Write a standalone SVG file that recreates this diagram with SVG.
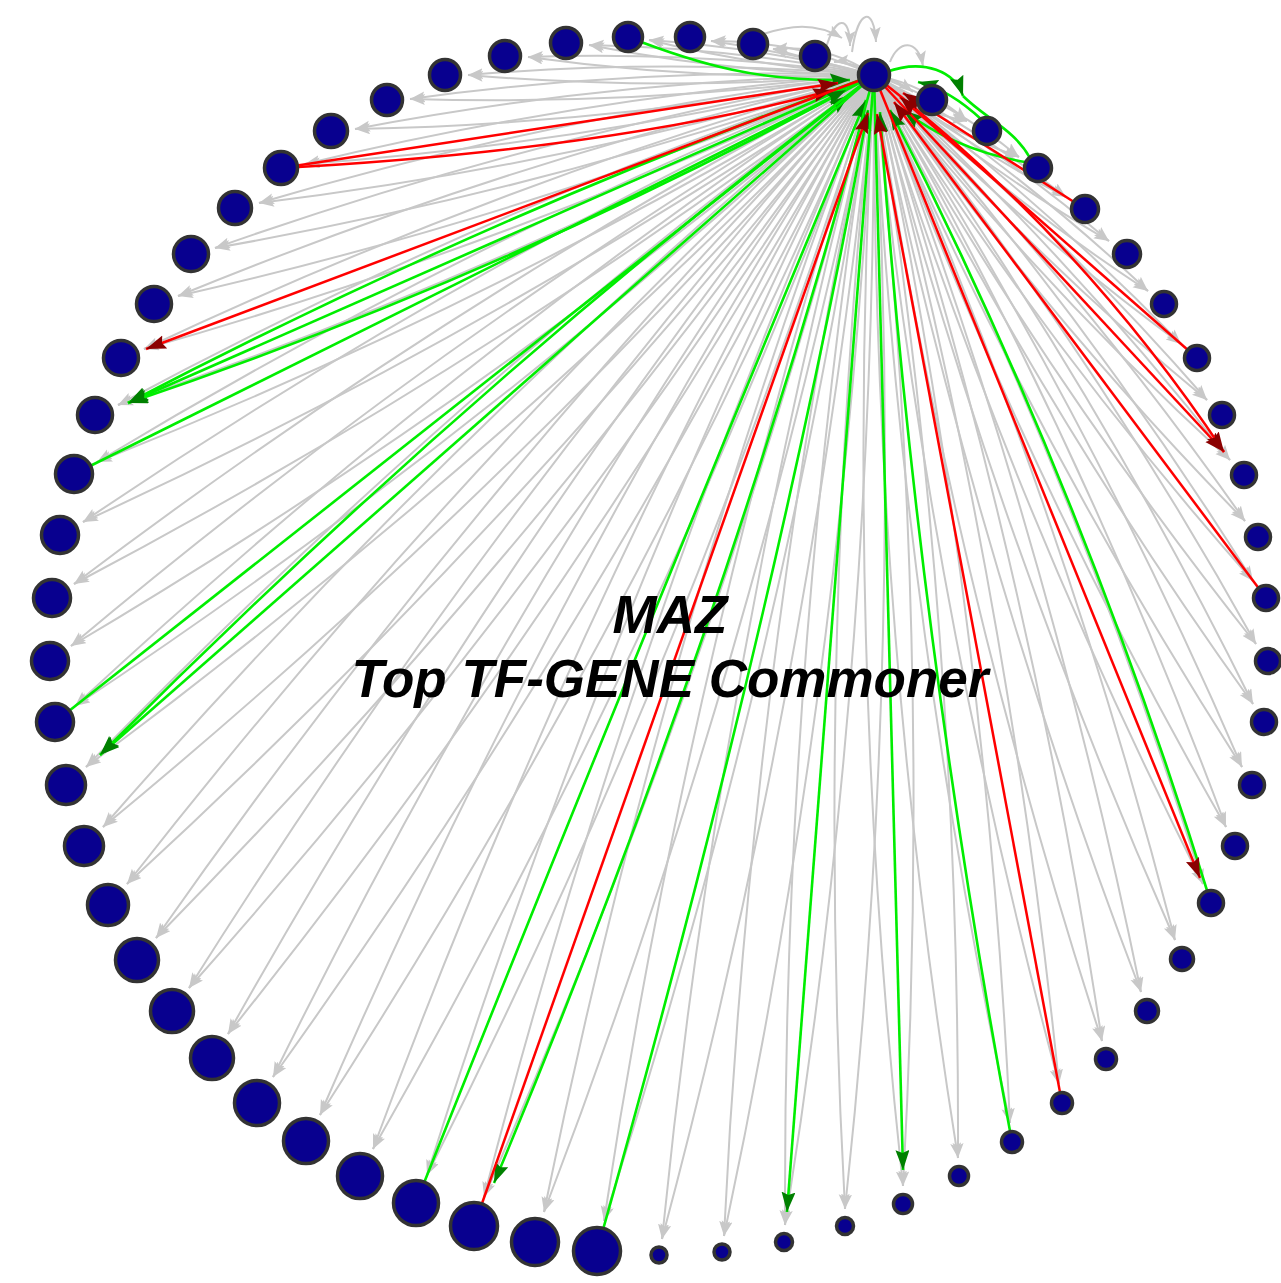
<svg xmlns="http://www.w3.org/2000/svg" width="1281" height="1283" viewBox="0 0 1281 1283">
<style>
.ge path{fill:none;stroke:#c8c8c8;stroke-width:2;marker-end:url(#ag)}
.re path{fill:none;stroke:#ff0000;stroke-width:2.5;marker-end:url(#ar)}
.gr path{fill:none;stroke:#00ee00;stroke-width:2.6;marker-end:url(#agr)}
.gr path.nm{marker-end:none}
.nodes circle{fill:#08008f;stroke:#333333;stroke-width:3.5}
.t{font-family:'Liberation Sans',Arial,sans-serif;font-weight:bold;font-style:italic;font-size:53px;fill:#000000}
</style>
<defs>
<marker id="ag" markerUnits="userSpaceOnUse" markerWidth="17" markerHeight="12" refX="15" refY="5.5" orient="auto"><path d="M0,0 L15,5.5 L0,11 L3,5.5 z" fill="#c8c8c8"/></marker>
<marker id="ar" markerUnits="userSpaceOnUse" markerWidth="22" markerHeight="16" refX="20" refY="7" orient="auto"><path d="M0,0 L20,7 L0,14 L3,7 z" fill="#8b0000"/></marker>
<marker id="agr" markerUnits="userSpaceOnUse" markerWidth="22" markerHeight="16" refX="20" refY="7" orient="auto"><path d="M0,0 L20,7 L0,14 L3,7 z" fill="#008000"/></marker>
</defs>
<rect width="1281" height="1283" fill="#ffffff"/>
<g id="connectors">
<g class="ge">
<path d="M760 35C790 25 815 22 842 38"/>
<path d="M874 75Q848 60 834 62"/>
<path d="M826 48C835 16 850 14 850 46"/><path d="M852 52C858 8 874 6 876 42"/><path d="M890 62C898 40 918 38 923 66"/><path d="M874 75Q895 78 913 92"/>
<path d="M874 75Q828 44 773 49"/><path d="M874 75Q820 62 773 49"/>
<path d="M874 75Q796 40 711 41"/><path d="M874 75Q793 53 711 41"/>
<path d="M874 75Q763 48 649 40"/><path d="M874 75Q760 67 649 40"/>
<path d="M874 75Q733 48 589 45"/><path d="M874 75Q730 73 589 45"/>
<path d="M874 75Q702 51 528 57"/><path d="M874 75Q700 81 528 57"/>
<path d="M874 75Q671 58 468 75"/><path d="M874 75Q671 92 468 75"/>
<path d="M874 75Q641 67 410 99"/><path d="M874 75Q643 106 410 99"/>
<path d="M874 75Q612 80 355 129"/><path d="M874 75Q617 124 355 129"/>
<path d="M874 75Q586 96 305 164"/><path d="M874 75Q593 143 305 164"/>
<path d="M874 75Q561 114 259 203"/><path d="M874 75Q572 165 259 203"/>
<path d="M874 75Q537 134 215 248"/><path d="M874 75Q552 189 215 248"/>
<path d="M874 75Q517 157 178 296"/><path d="M874 75Q535 215 178 296"/>
<path d="M874 75Q498 182 144 349"/><path d="M874 75Q521 242 144 349"/>
<path d="M874 75Q482 209 118 405"/><path d="M874 75Q510 271 118 405"/>
<path d="M874 75Q470 237 97 462"/><path d="M874 75Q502 301 97 462"/>
<path d="M874 75Q460 266 83 522"/><path d="M874 75Q497 331 83 522"/>
<path d="M874 75Q453 297 74 584"/><path d="M874 75Q495 362 74 584"/>
<path d="M874 75Q449 328 71 646"/><path d="M874 75Q496 394 71 646"/>
<path d="M874 75Q449 358 75 706"/><path d="M874 75Q501 423 75 706"/>
<path d="M874 75Q452 389 86 767"/><path d="M874 75Q509 453 86 767"/>
<path d="M874 75Q458 420 103 827"/><path d="M874 75Q520 483 103 827"/>
<path d="M874 75Q467 449 127 884"/><path d="M874 75Q534 510 127 884"/>
<path d="M874 75Q479 477 156 938"/><path d="M874 75Q550 536 156 938"/>
<path d="M874 75Q494 503 189 988"/><path d="M874 75Q569 560 189 988"/>
<path d="M874 75Q512 528 228 1034"/><path d="M874 75Q590 581 228 1034"/>
<path d="M874 75Q532 552 273 1077"/><path d="M874 75Q614 601 273 1077"/>
<path d="M874 75Q555 572 320 1115"/><path d="M874 75Q640 618 320 1115"/>
<path d="M874 75Q579 591 373 1149"/><path d="M874 75Q667 633 373 1149"/>
<path d="M874 75Q606 607 427 1175"/><path d="M874 75Q696 643 427 1175"/>
<path d="M874 75Q633 620 484 1197"/><path d="M874 75Q725 652 484 1197"/>
<path d="M874 75Q662 630 544 1212"/><path d="M874 75Q756 657 544 1212"/>
<path d="M874 75Q692 637 604 1221"/><path d="M874 75Q786 659 604 1221"/>
<path d="M874 75Q721 649 662 1239"/><path d="M874 75Q815 666 662 1239"/>
<path d="M874 75Q752 650 724 1236"/><path d="M874 75Q846 662 724 1236"/>
<path d="M874 75Q783 646 785 1225"/><path d="M874 75Q876 654 785 1225"/>
<path d="M874 75Q814 641 845 1209"/><path d="M874 75Q906 643 845 1209"/>
<path d="M874 75Q843 632 903 1186"/><path d="M874 75Q934 629 903 1186"/>
<path d="M874 75Q872 620 958 1158"/><path d="M874 75Q960 613 958 1158"/>
<path d="M874 75Q899 605 1010 1123"/><path d="M874 75Q985 594 1010 1123"/>
<path d="M874 75Q925 587 1059 1084"/><path d="M874 75Q1007 572 1059 1084"/>
<path d="M874 75Q948 567 1102 1041"/><path d="M874 75Q1027 549 1102 1041"/>
<path d="M874 75Q970 544 1141 992"/><path d="M874 75Q1045 523 1141 992"/>
<path d="M874 75Q989 520 1175 940"/><path d="M874 75Q1060 495 1175 940"/>
<path d="M874 75Q1005 493 1203 884"/><path d="M874 75Q1072 466 1203 884"/>
<path d="M874 75Q1019 465 1226 827"/><path d="M874 75Q1081 437 1226 827"/>
<path d="M874 75Q1030 436 1242 767"/><path d="M874 75Q1086 406 1242 767"/>
<path d="M874 75Q1038 405 1253 704"/><path d="M874 75Q1090 374 1253 704"/>
<path d="M874 75Q1042 375 1256 644"/><path d="M874 75Q1089 344 1256 644"/>
<path d="M874 75Q1043 344 1253 581"/><path d="M874 75Q1085 312 1253 581"/>
<path d="M874 75Q1041 313 1245 521"/><path d="M874 75Q1078 283 1245 521"/>
<path d="M874 75Q1036 282 1230 460"/><path d="M874 75Q1068 253 1230 460"/>
<path d="M874 75Q1027 252 1207 400"/><path d="M874 75Q1054 224 1207 400"/>
<path d="M874 75Q1016 223 1181 344"/><path d="M874 75Q1039 197 1181 344"/>
<path d="M874 75Q1002 195 1148 291"/><path d="M874 75Q1020 171 1148 291"/>
<path d="M874 75Q984 168 1109 241"/><path d="M874 75Q999 148 1109 241"/>
<path d="M874 75Q965 145 1066 197"/><path d="M874 75Q976 128 1066 197"/>
<path d="M874 75Q939 129 1019 157"/><path d="M874 75Q954 103 1019 157"/>
<path d="M874 75Q914 112 967 121"/><path d="M874 75Q927 85 967 121"/>
</g>
<g class="gr">
<path d="M628 37C700 65 760 82 850 80"/>
<path d="M874 75L128 403"/>
<path d="M874 75Q490 214 128 403"/>
<path d="M874 75Q515 272 128 403"/>
<path d="M74 474L846 90"/>
<path d="M55 722L849 95"/>
<path d="M874 75L100 755"/>
<path d="M874 75Q464 389 100 755"/>
<path d="M416 1203Q640 640 866 100"/>
<path d="M874 75Q730 620 494 1183"/>
<path d="M597 1251Q774 626 868 110"/>
<path d="M874 75L787 1212"/>
<path d="M874 75L903 1170"/>
<path d="M1012 1142Q915 620 880 112"/>
<path d="M1211 903Q1080 480 890 110"/>
<path d="M886 72C925 58 955 72 963 96"/>
<path class="nm" d="M963 96C985 118 1015 130 1030 158"/>
<path d="M1025 162Q955 150 903 110"/>
<path d="M982 120Q950 90 918 82"/>
</g>
<g class="re">
<path d="M281 168L838 83"/>
<path d="M281 168Q610 150 833 90"/>
<path d="M874 75L146 349"/>
<path d="M474 1226L868 113"/>
<path d="M1062 1103L877 114"/>
<path d="M874 75L1200 878"/>
<path d="M874 75L1224 452"/>
<path d="M874 75Q1079 235 1224 452"/>
<path d="M1197 358L900 97"/>
<path d="M1266 598L894 102"/>
<path d="M1085 209L903 93"/>
</g>
</g>
<g class="nodes">
<circle id="n0" cx="874" cy="75" r="15.5"/>
<circle id="n1" cx="815" cy="56" r="14.5"/>
<circle id="n2" cx="753" cy="44" r="14.5"/>
<circle id="n3" cx="690" cy="37" r="14.5"/>
<circle id="n4" cx="628" cy="37" r="14.5"/>
<circle id="n5" cx="566" cy="43" r="15.5"/>
<circle id="n6" cx="505" cy="56" r="15.5"/>
<circle id="n7" cx="445" cy="75" r="15.5"/>
<circle id="n8" cx="387" cy="100" r="15.5"/>
<circle id="n9" cx="331" cy="131" r="16.5"/>
<circle id="n10" cx="281" cy="168" r="16.5"/>
<circle id="n11" cx="235" cy="208" r="16.5"/>
<circle id="n12" cx="191" cy="254" r="17.5"/>
<circle id="n13" cx="154" cy="304" r="17.5"/>
<circle id="n14" cx="121" cy="358" r="17.5"/>
<circle id="n15" cx="95" cy="415" r="17.5"/>
<circle id="n16" cx="74" cy="474" r="18.5"/>
<circle id="n17" cx="60" cy="535" r="18.5"/>
<circle id="n18" cx="52" cy="598" r="18.5"/>
<circle id="n19" cx="50" cy="661" r="18.5"/>
<circle id="n20" cx="55" cy="722" r="18.5"/>
<circle id="n21" cx="66" cy="785" r="19.5"/>
<circle id="n22" cx="84" cy="846" r="19.5"/>
<circle id="n23" cx="108" cy="905" r="20.5"/>
<circle id="n24" cx="137" cy="960" r="21.5"/>
<circle id="n25" cx="172" cy="1011" r="21.5"/>
<circle id="n26" cx="212" cy="1058" r="21.5"/>
<circle id="n27" cx="257" cy="1103" r="22.5"/>
<circle id="n28" cx="306" cy="1141" r="22.5"/>
<circle id="n29" cx="360" cy="1176" r="22.5"/>
<circle id="n30" cx="416" cy="1203" r="22.5"/>
<circle id="n31" cx="474" cy="1226" r="23.5"/>
<circle id="n32" cx="535" cy="1242" r="23.5"/>
<circle id="n33" cx="597" cy="1251" r="23.5"/>
<circle id="n34" cx="659" cy="1255" r="8"/>
<circle id="n35" cx="722" cy="1252" r="8"/>
<circle id="n36" cx="784" cy="1242" r="8.5"/>
<circle id="n37" cx="845" cy="1226" r="8.5"/>
<circle id="n38" cx="903" cy="1204" r="9.5"/>
<circle id="n39" cx="959" cy="1176" r="9.5"/>
<circle id="n40" cx="1012" cy="1142" r="10.5"/>
<circle id="n41" cx="1062" cy="1103" r="10.5"/>
<circle id="n42" cx="1106" cy="1059" r="10.5"/>
<circle id="n43" cx="1147" cy="1011" r="11.5"/>
<circle id="n44" cx="1182" cy="959" r="11.5"/>
<circle id="n45" cx="1211" cy="903" r="12.5"/>
<circle id="n46" cx="1235" cy="846" r="12.5"/>
<circle id="n47" cx="1252" cy="785" r="12.5"/>
<circle id="n48" cx="1264" cy="722" r="12.5"/>
<circle id="n49" cx="1268" cy="661" r="12.5"/>
<circle id="n50" cx="1266" cy="598" r="12.5"/>
<circle id="n51" cx="1258" cy="537" r="12.5"/>
<circle id="n52" cx="1244" cy="475" r="12.5"/>
<circle id="n53" cx="1222" cy="415" r="12.5"/>
<circle id="n54" cx="1197" cy="358" r="12.5"/>
<circle id="n55" cx="1164" cy="304" r="12.5"/>
<circle id="n56" cx="1127" cy="254" r="13.5"/>
<circle id="n57" cx="1085" cy="209" r="13.5"/>
<circle id="n58" cx="1038" cy="168" r="13.5"/>
<circle id="n59" cx="987" cy="131" r="13.5"/>
<circle id="n60" cx="932" cy="100" r="14.5"/>
</g>
<g id="title">
<text class="t" x="670" y="633" text-anchor="middle">MAZ</text>
<text class="t" x="670" y="697" text-anchor="middle">Top TF-GENE Commoner</text>
</g>
</svg>
